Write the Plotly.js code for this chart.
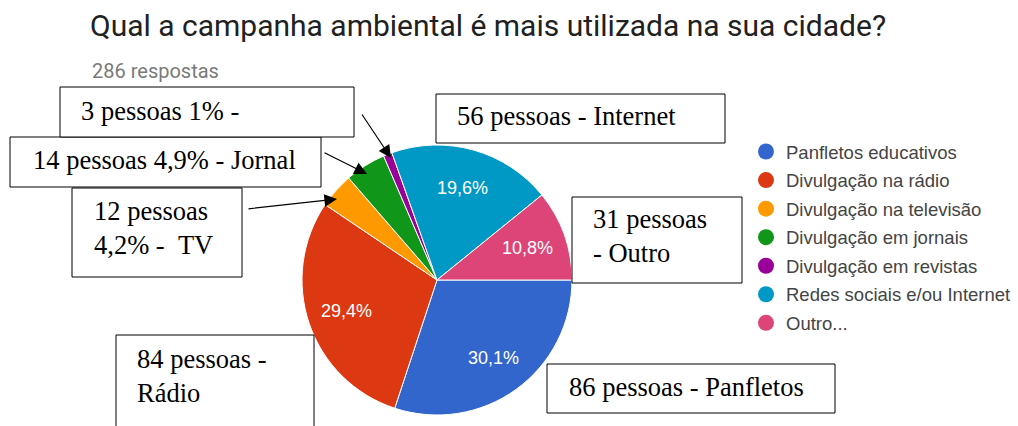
<!DOCTYPE html>
<html><head><meta charset="utf-8">
<script src="https://cdn.plot.ly/plotly-3.0.1.min.js"></script>
<style>html,body{margin:0;padding:0;background:#fff;}#chart{width:1018px;height:426px;}</style>
</head><body><div id="chart"></div>
<script>
// ---- data ----
const categories = ['Panfletos educativos','Divulgação na rádio','Divulgação na televisão','Divulgação em jornais','Divulgação em revistas','Redes sociais e/ou Internet','Outro...'];
const responses = [86, 84, 12, 14, 3, 56, 31];
const calloutTexts = ['86 pessoas - Panfletos','84 pessoas -<br>Rádio','12 pessoas<br>4,2% - &nbsp;TV','14 pessoas 4,9% - Jornal','3 pessoas 1% -','56 pessoas - Internet','31 pessoas<br>- Outro'];
const titleText = 'Qual a campanha ambiental é mais utilizada na sua cidade?';
const subtitleText = '286 respostas';

// ---- styles / layout ----
const sliceColors = ['#3366cc','#dc3912','#ff9900','#109618','#990099','#0099c6','#dd4477'];
const W = 1018, H = 426;
const px = x => x / W, py = y => 1 - y / H;
// callout boxes: [x0,y0,x1,y1], text left, first baseline
const boxes = [
  {i:0, r:[547,364,835,413], tx:568, ty:398},
  {i:1, r:[116,335,314,440], tx:136, ty:370},
  {i:2, r:[72,188,242,277], tx:93, ty:222},
  {i:3, r:[10,137,321,187], tx:32, ty:171},
  {i:4, r:[60,87,354,137], tx:80, ty:122},
  {i:5, r:[436,94,725,143], tx:456, ty:127},
  {i:6, r:[572,197,742,283], tx:592, ty:230}
];
const arrows = [
  {from:[361,113], to:[391,158]},
  {from:[323,152], to:[367,174]},
  {from:[247,209], to:[337,199]}
];
const calloutFont = {family:'Liberation Serif, Times New Roman, serif', size:26.5, color:'#000'};

const total = responses.reduce((a,b)=>a+b,0);
const cx = 437, cy = 280, R = 135, labelR = 0.71 * R;

const traces = [{
  type:'pie', values:responses, labels:categories,
  textinfo:'none',
  marker:{colors:sliceColors, line:{color:'#fff', width:1}},
  sort:false, direction:'clockwise', rotation:90,
  domain:{x:[px(cx-R), px(cx+R)], y:[py(cy+R), py(cy-R)]},
  showlegend:false, hoverinfo:'label+value+percent'
}];
categories.forEach((c,k)=>{
  traces.push({type:'scatter', mode:'markers', x:[null], y:[null], name:c,
    legendgroup:'g'+k, marker:{color:sliceColors[k], size:16, symbol:'circle'}, hoverinfo:'skip'});
});

const shapes = [], annotations = [];
// percentage labels inside the larger slices, placed at each slice's mid-angle
let cum = 0;
responses.forEach((v,k)=>{
  const frac = v/total;
  const mid = (cum + v/2)/total * 2*Math.PI; // clockwise from 3 o'clock
  cum += v;
  if (frac < 0.05) return;
  annotations.push({xref:'paper', yref:'paper', x:px(cx + labelR*Math.cos(mid)), y:py(cy + labelR*Math.sin(mid)),
    xanchor:'center', yanchor:'middle', showarrow:false,
    text:(frac*100).toFixed(1).replace('.',',') + '%',
    font:{family:'Arial, Liberation Sans, sans-serif', size:18, color:'#fff'}});
});
boxes.forEach(b=>{
  shapes.push({type:'rect', xref:'paper', yref:'paper', x0:px(b.r[0]), x1:px(b.r[2]), y0:py(b.r[1]), y1:py(b.r[3]),
    line:{color:'#000', width:1}, fillcolor:'#fff', layer:'above'});
  annotations.push({xref:'paper', yref:'paper', x:px(b.tx), y:py(b.ty-27), xanchor:'left', yanchor:'top',
    text:calloutTexts[b.i], showarrow:false, align:'left', font:calloutFont, borderpad:0});
});
arrows.forEach(a=>{
  annotations.push({xref:'paper', yref:'paper', x:px(a.to[0]), y:py(a.to[1]), text:'', showarrow:true,
    ax:a.from[0]-a.to[0], ay:a.from[1]-a.to[1], axref:'pixel', ayref:'pixel',
    arrowhead:2, arrowsize:2.1, arrowwidth:1.2, arrowcolor:'#000', standoff:0, startstandoff:0});
});
annotations.push({xref:'paper', yref:'paper', x:px(90), y:py(57), xanchor:'left', yanchor:'top',
  text:subtitleText, showarrow:false, font:{family:'Roboto, Arial, sans-serif', size:20, color:'#7a7a7a'}});

const layout = {
  width:W, height:H, margin:{l:0,r:0,t:0,b:0}, paper_bgcolor:'#fff', plot_bgcolor:'#fff',
  title:{text:titleText, x:px(90), xanchor:'left', xref:'container', yref:'container', y:py(15), yanchor:'top',
    font:{family:'Roboto, Arial, sans-serif', size:30, color:'#212121'}},
  xaxis:{visible:false}, yaxis:{visible:false},
  showlegend:true,
  legend:{x:px(746), xanchor:'left', y:py(133), yanchor:'top', traceorder:'grouped', tracegroupgap:1.5,
    font:{family:'Arial, Liberation Sans, sans-serif', size:18.5, color:'#444'}, bgcolor:'rgba(0,0,0,0)'},
  shapes:shapes, annotations:annotations
};
Plotly.newPlot('chart', traces, layout, {displayModeBar:false, staticPlot:true});
</script></body></html>
